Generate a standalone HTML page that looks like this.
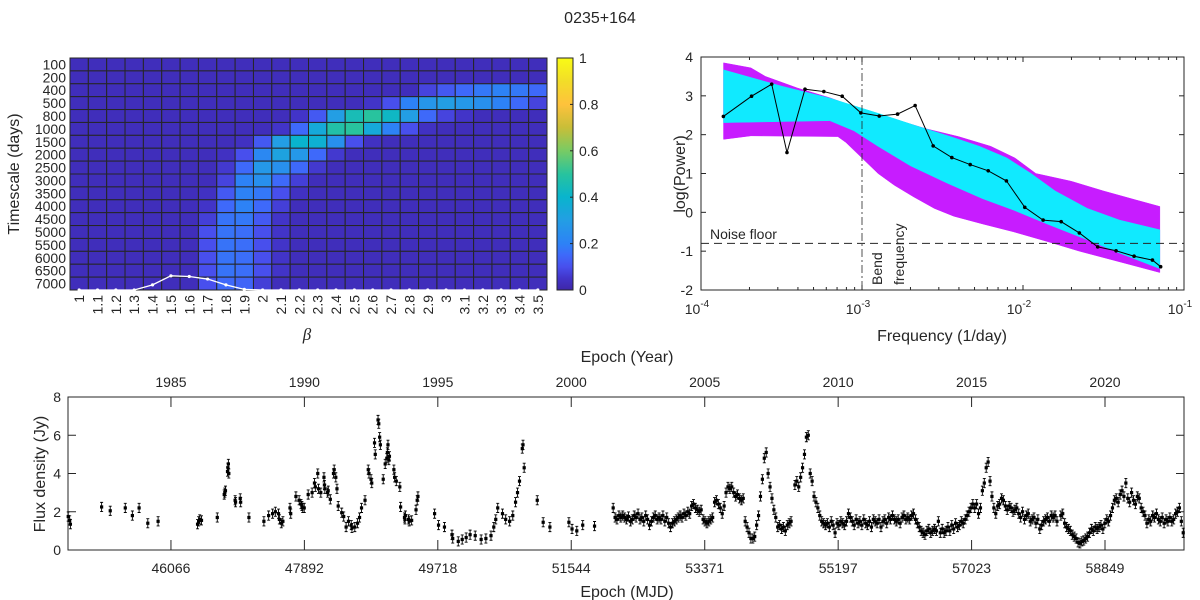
<!DOCTYPE html>
<html><head><meta charset="utf-8">
<style>
html,body{margin:0;padding:0;background:#fff;}
svg{display:block;font-family:"Liberation Sans",Arial,sans-serif;}
text{fill:#262626;}
</style></head>
<body>
<svg id="fig" width="1200" height="600" viewBox="0 0 1200 600">
<text x="600" y="23" text-anchor="middle" font-size="16">0235+164</text>
<g id="hm"></g>
<g id="psd"></g>
<g id="lc"></g>
</svg>
<script>
// ---------- Heatmap data ----------
const betas=["1","1.1","1.2","1.3","1.4","1.5","1.6","1.7","1.8","1.9","2","2.1","2.2","2.3","2.4","2.5","2.6","2.7","2.8","2.9","3","3.1","3.2","3.3","3.4","3.5"];
const timescales=["100","200","400","500","800","1000","1500","2000","2500","3000","3500","4000","4500","5000","5500","6000","6500","7000"];
const probPct=[
[3,3,3,3,3,3,3,3,3,3,3,3,3,3,3,3,3,3,3,3,3,3,3,3,3,3],
[3,3,3,3,3,3,3,3,3,3,3,3,3,3,3,3,3,3,3,3,3,3,3,3,3,3],
[3,3,3,3,3,3,3,3,3,3,3,3,3,3,3,3,3,3,3,8,12,15,18,20,18,15],
[3,3,3,3,3,3,3,3,3,3,3,3,3,3,3,3,5,10,20,27,30,28,25,20,15,8],
[3,3,3,3,3,3,3,3,3,3,3,3,5,12,30,45,50,42,30,15,8,5,3,3,3,3],
[3,3,3,3,3,3,3,3,3,3,3,5,15,35,48,50,35,20,10,4,3,3,3,3,3,3],
[3,3,3,3,3,3,3,3,3,4,12,30,40,38,25,10,4,3,3,3,3,3,3,3,3,3],
[3,3,3,3,3,3,3,3,4,10,22,32,28,15,6,3,3,3,3,3,3,3,3,3,3,3],
[3,3,3,3,3,3,3,3,6,15,28,25,15,6,3,3,3,3,3,3,3,3,3,3,3,3],
[3,3,3,3,3,3,3,3,8,20,25,15,7,3,3,3,3,3,3,3,3,3,3,3,3,3],
[3,3,3,3,3,3,3,4,12,20,18,10,4,3,3,3,3,3,3,3,3,3,3,3,3,3],
[3,3,3,3,3,3,3,5,15,20,15,7,3,3,3,3,3,3,3,3,3,3,3,3,3,3],
[3,3,3,3,3,3,3,7,17,18,12,5,3,3,3,3,3,3,3,3,3,3,3,3,3,3],
[3,3,3,3,3,3,3,10,17,16,10,5,3,3,3,3,3,3,3,3,3,3,3,3,3,3],
[3,3,3,3,3,3,3,10,17,16,10,5,3,3,3,3,3,3,3,3,3,3,3,3,3,3],
[3,3,3,3,3,3,3,10,17,16,10,5,3,3,3,3,3,3,3,3,3,3,3,3,3,3],
[3,3,3,3,3,3,3,10,17,16,10,5,3,3,3,3,3,3,3,3,3,3,3,3,3,3],
[3,3,3,3,3,3,3,10,15,14,7,3,3,3,3,3,3,3,3,3,3,3,3,3,3,3]];
const betaMarginal=[0,0,0,0,0.4,1.1,1.05,0.85,0.4,0.05,0,0,0,0,0,0,0,0,0,0,0,0,0,0,0,0];
const cbTicks=["0","0.2","0.4","0.6","0.8","1"];

// ---------- PSD data ----------
const magUpF=[-3.86,-3.69,-3.6,-3.4,-3.2,-3.0,-2.8,-2.6,-2.4,-2.2,-2.05,-1.92,-1.7,-1.5,-1.3,-1.15];
const magUpV=[3.85,3.72,3.5,3.2,2.95,2.65,2.4,2.15,1.95,1.7,1.4,1.0,0.8,0.55,0.32,0.15];
const magLoF=[-3.86,-3.69,-3.15,-3.1,-3.0,-2.9,-2.8,-2.68,-2.55,-2.43,-2.25,-2.06,-1.85,-1.65,-1.44,-1.15];
const magLoV=[1.88,1.97,1.95,1.8,1.4,1.0,0.7,0.4,0.1,-0.1,-0.3,-0.5,-0.75,-1.0,-1.23,-1.55];
const cyUpF=[-3.86,-3.5,-3.2,-2.9,-2.68,-2.45,-2.27,-2.1,-1.95,-1.8,-1.6,-1.4,-1.15];
const cyUpV=[3.67,3.25,2.94,2.55,2.25,1.95,1.7,1.4,1.0,0.55,0.1,-0.2,-0.45];
const cyLoF=[-3.86,-3.2,-3.05,-2.9,-2.7,-2.47,-2.25,-2.06,-1.85,-1.6,-1.4,-1.15];
const cyLoV=[2.31,2.36,2.1,1.7,1.2,0.75,0.35,0.06,-0.3,-0.71,-1.05,-1.45];
const psdLogF=[-3.861,-3.686,-3.561,-3.466,-3.354,-3.237,-3.123,-3.007,-2.893,-2.779,-2.670,-2.558,-2.442,-2.328,-2.216,-2.103,-1.989,-1.875,-1.763,-1.650,-1.536,-1.422,-1.310,-1.196,-1.145];
const psdPow=[2.47,2.99,3.30,1.54,3.17,3.11,2.99,2.56,2.48,2.53,2.75,1.71,1.41,1.23,1.07,0.81,0.13,-0.20,-0.24,-0.53,-0.89,-0.99,-1.13,-1.23,-1.40];
const noiseFloor=-0.8, bendLogF=-3;

// ---------- Light curve data ----------
const sparseMJD=[44660,44680,44690,45117,45235,45441,45538,45630,45749,45890,46430,46445,46460,46484,46700,46795,46803,46812,46840,46846,46852,46858,46944,46950,47014,47020,47133,47338,47403,47457,47495,47538,47550,47576,47598,47695,47705,47776,47820,47846,47858,47870,47890,47944,47998,48030,48042,48075,48085,48117,48160,48166,48172,48210,48218,48247,48290,48300,48322,48338,48355,48403,48430,48463,48495,48533,48543,48582,48620,48647,48674,48722,48766,48776,48804,48814,48852,48862,48900,48910,48922,48932,48971,48998,49020,49028,49036,49048,49056,49117,49127,49150,49198,49209,49262,49268,49274,49318,49326,49360,49420,49436,49446,49674,49728,49809,49912,49922,49998,50052,50106,50160,50230,50311,50376,50446,50484,50511,50538,50603,50647,50701,50744,50782,50809,50836,50874,50884,50900,51079,51160,51252,51512,51555,51620,51701,51863];
const sparseFlux=[1.75,1.55,1.35,2.25,2.05,2.2,1.8,2.2,1.4,1.5,1.35,1.5,1.6,1.55,1.7,2.9,3.0,3.1,4.1,4.3,4.5,4.0,2.6,2.5,2.7,2.5,1.7,1.5,1.8,1.9,2.0,1.9,1.6,1.4,1.5,2.2,1.9,2.8,2.6,2.4,2.3,2.2,2.2,2.9,3.0,3.5,3.3,4.0,3.2,3.0,3.8,3.4,3.2,3.0,3.1,2.65,4.0,4.2,3.8,3.2,2.3,1.95,1.75,1.2,1.5,1.3,1.15,1.2,1.4,1.7,2.2,2.6,4.2,4.0,3.7,3.5,5.6,5.0,6.8,6.6,5.9,5.5,3.7,4.5,4.8,5.1,5.5,4.7,4.9,4.2,3.8,3.6,3.3,2.25,1.7,1.6,1.8,1.6,1.5,1.55,2.1,2.6,2.8,1.9,1.3,1.2,0.8,0.6,0.45,0.55,0.65,0.8,0.75,0.55,0.6,0.75,1.2,1.6,2.2,1.9,1.6,1.5,1.8,2.5,3.0,3.6,5.3,5.5,4.3,2.6,1.45,1.2,1.45,1.1,1.0,1.3,1.25];
const denseStartMJD=52118, denseStepDays=26.18;
const denseFlux=[2.2,1.7,1.6,1.8,1.7,1.8,1.7,1.6,1.75,1.5,1.6,1.8,1.7,1.9,1.6,1.7,1.5,1.8,1.6,1.3,1.5,1.7,1.8,1.6,1.7,1.6,
1.8,1.5,1.7,1.4,1.2,1.4,1.5,1.6,1.7,1.8,1.7,1.9,1.8,2.0,1.9,2.3,2.4,2.2,2.1,2.0,2.1,1.6,1.5,1.4,1.5,1.6,
1.7,2.5,2.6,2.4,2.2,1.9,2.3,3.0,3.3,3.2,3.3,3.0,2.8,2.9,2.7,2.6,2.7,1.5,1.2,0.9,0.6,0.6,0.7,1.3,1.8,2.8,
3.7,4.8,5.1,4.0,3.3,2.7,2.1,1.7,1.2,1.3,1.1,1.2,1.0,1.3,1.4,1.5,null,3.4,3.6,3.3,3.8,4.3,5.0,5.9,6.0,
4.0,3.6,2.8,2.5,2.2,1.8,1.5,1.4,1.3,1.4,1.2,1.5,1.3,0.9,1.4,1.3,1.5,1.4,1.3,1.5,1.9,1.7,1.5,1.3,1.6,1.4,
1.5,1.3,1.6,1.4,1.3,1.5,1.2,1.6,1.5,1.4,1.6,1.2,1.5,1.6,1.4,1.7,1.6,1.8,1.6,1.5,1.6,1.4,1.7,1.8,1.6,1.7,
1.6,1.8,1.9,1.6,1.4,1.2,1.0,0.9,0.8,1.0,1.1,0.9,1.0,1.1,1.0,1.5,0.9,1.1,0.9,1.0,1.2,1.0,1.3,1.1,1.4,1.2,
1.3,1.5,1.4,1.6,1.8,2.0,2.2,2.4,2.2,2.4,1.9,2.2,3.1,3.5,4.3,4.6,3.6,2.8,2.2,1.9,2.3,2.4,2.7,2.6,2.3,2.1,
2.3,2.2,2.0,2.1,2.2,1.9,1.7,2.0,1.6,1.8,1.9,1.5,1.6,1.7,1.4,1.6,1.1,1.3,1.5,1.6,1.7,1.5,1.8,1.7,1.8,1.5,
null,1.8,1.9,1.4,1.2,1.1,1.0,0.8,0.7,0.6,0.4,0.35,0.45,0.5,0.6,0.7,0.9,1.1,1.0,1.2,1.1,1.2,1.3,1.1,1.4,1.6,
1.5,1.8,2.2,2.6,2.7,2.5,2.9,3.1,2.8,3.5,2.7,2.5,3.0,2.6,2.4,2.8,2.7,2.2,2.0,1.8,1.4,1.6,1.5,1.8,1.7,1.9,
1.6,1.5,1.7,1.4,1.6,1.5,1.7,1.5,1.6,1.9,2.0,2.2,1.5,0.9];
const mjdTicks=[46066,47892,49718,51544,53371,55197,57023,58849];
const yearTicks=["1985","1990","1995","2000","2005","2010","2015","2020"];
const fluxTicks=[0,2,4,6,8];

const NS="http://www.w3.org/2000/svg";
function mk(parent,tag,attrs,txt){const e=document.createElementNS(NS,tag);for(const k in attrs)e.setAttribute(k,attrs[k]);if(txt!==undefined)e.textContent=txt;parent.appendChild(e);return e;}

const cmStops=[[0,62,38,168],[0.05,66,52,200],[0.1,72,79,237],[0.15,62,105,250],[0.2,45,130,246],[0.3,35,158,228],[0.4,9,180,205],[0.5,40,195,158],[0.6,120,203,100],[0.7,200,190,56],[0.8,254,194,60],[0.9,242,221,40],[1,249,251,21]];
function cmap(v){v=Math.max(0,Math.min(1,v));for(let i=1;i<cmStops.length;i++){if(v<=cmStops[i][0]){const a=cmStops[i-1],b=cmStops[i];const t=(v-a[0])/(b[0]-a[0]);return `rgb(${Math.round(a[1]+t*(b[1]-a[1]))},${Math.round(a[2]+t*(b[2]-a[2]))},${Math.round(a[3]+t*(b[3]-a[3]))})`;}}return "rgb(249,251,21)";}

// ---------- Heatmap ----------
(function(){
const g=document.getElementById('hm');
const L=70,R=547,T=58,B=290;const nc=betas.length,nr=timescales.length;const cw=(R-L)/nc,rh=(B-T)/nr;
for(let r=0;r<nr;r++)for(let c=0;c<nc;c++){
 const e=mk(g,'rect',{x:L+c*cw,y:T+r*rh,width:cw,height:rh,fill:cmap(probPct[r][c]/100),stroke:'#262626','stroke-width':1});
 
 
}
mk(g,'rect',{x:L,y:T,width:R-L,height:B-T,fill:'none',stroke:'#262626','stroke-width':1});
for(let r=0;r<nr;r++){const t=mk(g,'text',{x:L-4,y:T+(r+0.5)*rh+5,'text-anchor':'end','font-size':14},timescales[r]);
 
 }
for(let c=0;c<nc;c++){const x=L+(c+0.5)*cw;const t=mk(g,'text',{x:0,y:0,'text-anchor':'end','font-size':14,transform:`translate(${x+5},${B+5}) rotate(-90)`},betas[c]);
 
 }
let pts=betaMarginal.map((v,c)=>[L+(c+0.5)*cw,B-v*rh]);
const pl=mk(g,'polyline',{points:pts.map(p=>p.join(',')).join(' '),fill:'none',stroke:'#fff','stroke-width':1.3});


pts.forEach(p=>{const d=mk(g,'circle',{cx:p[0],cy:p[1],r:1.6,fill:'#fff'});
 
 });
const yt=mk(g,'text',{x:0,y:0,'text-anchor':'middle','font-size':16,transform:'translate(19,174) rotate(-90)'},'Timescale (days)');

const xt=mk(g,'text',{x:307,y:340,'text-anchor':'middle','font-size':17,'font-style':'italic','font-family':'Liberation Serif, serif'},'β');

const cx=557,cwid=16;const defs=mk(g,'defs',{});const lg=mk(defs,'linearGradient',{id:'cbg',x1:0,y1:1,x2:0,y2:0});
cmStops.forEach(s=>mk(lg,'stop',{offset:s[0],'stop-color':cmap(s[0])}));
const cb=mk(g,'rect',{x:cx,y:T,width:cwid,height:B-T,fill:'url(#cbg)',stroke:'#262626','stroke-width':1});

cbTicks.forEach((s,i)=>{const y=B-i/(cbTicks.length-1)*(B-T);
 mk(g,'line',{x1:cx+cwid-3,x2:cx+cwid,y1:y,y2:y,stroke:'#262626'});
 const t=mk(g,'text',{x:cx+cwid+6,y:y+5,'font-size':14},s);
 });
})();

// ---------- PSD ----------
(function(){
const g=document.getElementById('psd');
const L=701,R=1184,T=57,B=290;
const X=lf=>L+(lf+4)/3*(R-L), Y=v=>T+(4-v)/6*(B-T);
function band(uf,uv,lf,lv,fill,name){const p=uf.map((f,i)=>X(f)+','+Y(uv[i])).concat(lf.map((f,i)=>X(f)+','+Y(lv[i])).reverse());
 const e=mk(g,'polygon',{points:p.join(' '),fill:fill,stroke:fill,'stroke-width':0.5,'stroke-linejoin':'round'});
 }
const defs=mk(g,'defs',{});const lg=mk(defs,'linearGradient',{id:'cyg',x1:0,y1:0,x2:0,y2:1});
mk(lg,'stop',{offset:0,'stop-color':'#3fd0f5'});mk(lg,'stop',{offset:0.25,'stop-color':'#00f2ff'});mk(lg,'stop',{offset:0.75,'stop-color':'#00eaff'});mk(lg,'stop',{offset:1,'stop-color':'#58b8f5'});
band(magUpF,magUpV,magLoF,magLoV,'#c71cff','simulation-envelope-magenta');
band(cyUpF,cyUpV,cyLoF,cyLoV,'#10eaff','simulation-envelope-cyan');
mk(g,'rect',{x:L,y:T,width:R-L,height:B-T,fill:'none',stroke:'#262626'});
for(let v=-2;v<=4;v++){const y=Y(v);mk(g,'line',{x1:L,x2:L+5,y1:y,y2:y,stroke:'#262626'});mk(g,'line',{x1:R-5,x2:R,y1:y,y2:y,stroke:'#262626'});
 const t=mk(g,'text',{x:L-8,y:y+5,'text-anchor':'end','font-size':14},String(v));
 }
for(let d=-4;d<=-1;d++){const x=X(d);mk(g,'line',{x1:x,x2:x,y1:B,y2:B-5,stroke:'#262626'});mk(g,'line',{x1:x,x2:x,y1:T,y2:T+5,stroke:'#262626'});
 const t=mk(g,'text',{x:x-4,y:B+24,'text-anchor':'middle','font-size':14},'10');mk(t,'tspan',{dy:-7,'font-size':10},String(d));
 
 for(let k=2;k<=9&&d<-1;k++){const xm=X(d+Math.log10(k));mk(g,'line',{x1:xm,x2:xm,y1:B,y2:B-3,stroke:'#262626'});mk(g,'line',{x1:xm,x2:xm,y1:T,y2:T+3,stroke:'#262626'});}}
const nf=mk(g,'line',{x1:L,x2:R,y1:Y(noiseFloor),y2:Y(noiseFloor),stroke:'#262626','stroke-dasharray':'8,5'});

const bf=mk(g,'line',{x1:X(bendLogF),x2:X(bendLogF),y1:T,y2:B,stroke:'#262626','stroke-dasharray':'8,3,2,3','stroke-width':0.8});

const nt=mk(g,'text',{x:710,y:239,'font-size':14},'Noise floor');
const bt=mk(g,'text',{x:0,y:0,'font-size':14,transform:`translate(${X(bendLogF)+20},285) rotate(-90)`});
mk(bt,'tspan',{x:0,dy:0},'Bend');mk(bt,'tspan',{x:0,dy:22},'frequency');

const pts=psdLogF.map((f,i)=>[X(f),Y(psdPow[i])]);
const pl=mk(g,'polyline',{points:pts.map(p=>p.join(',')).join(' '),fill:'none',stroke:'#000','stroke-width':1});

pts.forEach(p=>{const d=mk(g,'circle',{cx:p[0],cy:p[1],r:1.8,fill:'#000'});
 });
const xt=mk(g,'text',{x:942,y:341,'text-anchor':'middle','font-size':16},'Frequency (1/day)');
const yt=mk(g,'text',{x:0,y:0,'text-anchor':'middle','font-size':16,transform:'translate(685,174) rotate(-90)'},'log(Power)');
})();

// ---------- Light curve ----------
(function(){
const g=document.getElementById('lc');
const L=68,R=1184,T=397,B=550,m0=44657,m1=59930;
const X=m=>L+(m-m0)/(m1-m0)*(R-L), Y=f=>B-f/8*(B-T);
mk(g,'rect',{x:L,y:T,width:R-L,height:B-T,fill:'none',stroke:'#262626'});
fluxTicks.forEach(v=>{const y=Y(v);mk(g,'line',{x1:L,x2:L+8,y1:y,y2:y,stroke:'#262626'});mk(g,'line',{x1:R-8,x2:R,y1:y,y2:y,stroke:'#262626'});
 const t=mk(g,'text',{x:L-7,y:y+5,'text-anchor':'end','font-size':14},String(v));});
mjdTicks.forEach((m,i)=>{const x=X(m);mk(g,'line',{x1:x,x2:x,y1:B,y2:B-10,stroke:'#262626'});mk(g,'line',{x1:x,x2:x,y1:T,y2:T+10,stroke:'#262626'});
 const t=mk(g,'text',{x:x,y:B+23,'text-anchor':'middle','font-size':14},String(m));
 const u=mk(g,'text',{x:x,y:T-10,'text-anchor':'middle','font-size':14},yearTicks[i]);});
function pt(m,f){const x=X(m),y=Y(f);const e=0.24*19.1;
 const p=mk(g,'path',{d:`M${x},${y-e}V${y+e}M${x-1.5},${y-e}H${x+1.5}M${x-1.5},${y+e}H${x+1.5}`,stroke:'#000','stroke-width':0.9,fill:'none'});
 
 const r=mk(g,'rect',{x:x-1.6,y:y-1.6,width:3.2,height:3.2,fill:'#000'});
 }
sparseMJD.forEach((m,i)=>pt(m,sparseFlux[i]));
denseFlux.forEach((f,i)=>{if(f!==null)pt(denseStartMJD+i*denseStepDays,f);});
const yt=mk(g,'text',{x:0,y:0,'text-anchor':'middle','font-size':16,transform:'translate(45,474) rotate(-90)'},'Flux density (Jy)');
const xt=mk(g,'text',{x:627,y:597,'text-anchor':'middle','font-size':16},'Epoch (MJD)');
const xt2=mk(g,'text',{x:627,y:362,'text-anchor':'middle','font-size':16},'Epoch (Year)');
})();
</script>
</body></html>
